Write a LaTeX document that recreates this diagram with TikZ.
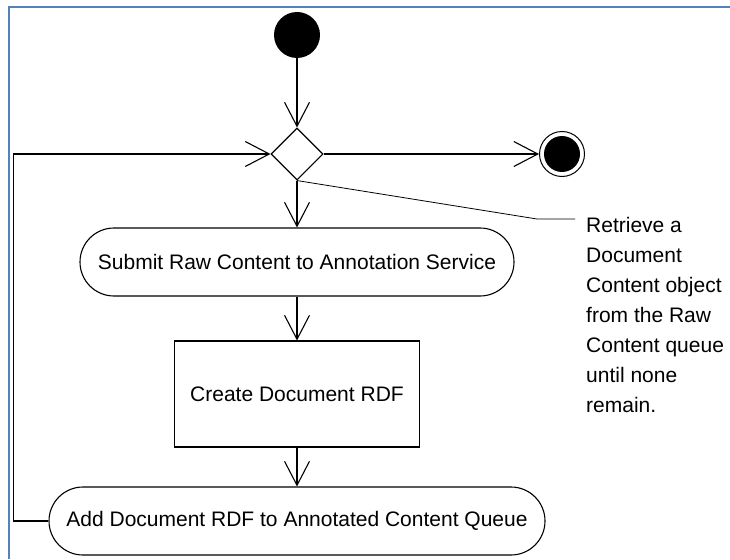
\documentclass[tikz,border=0pt]{standalone}
\usepackage{fontspec}
\setmainfont{Liberation Sans}
\usetikzlibrary{arrows.meta,shapes.geometric}
\definecolor{frameblue}{RGB}{84,130,190}
\begin{document}
\begin{tikzpicture}[x=1pt,y=-1pt,
  txt/.style={font=\fontsize{21}{30}\selectfont},
  flow/.style={line width=1.1pt,-{Straight Barb[length=24pt,width=25pt,line width=1.1pt]}},
  action/.style={draw,line width=1.1pt,rounded corners=34pt,minimum height=68pt,inner sep=0pt,txt},
  activity/.style={draw,line width=1.1pt,inner sep=0pt,txt},
  decision/.style={diamond,draw,line width=1.1pt,minimum width=52pt,minimum height=52pt,inner sep=0pt,aspect=1},
  startdot/.style={circle,fill=black,minimum size=46pt,inner sep=0pt},
  endring/.style={circle,draw,line width=1pt,minimum size=45pt,inner sep=0pt},
  note/.style={txt,align=left,inner sep=0pt},
  noteline/.style={line width=0.8pt}
]
\useasboundingbox (0,0) rectangle (730,559);
\fill[white] (0,0) rectangle (730,559);
% frame
\draw[frameblue,line width=2.2pt] (9,559) -- (9,7) -- (730,7);

% nodes
\node[startdot] (start) at (297,35) {};
\node[decision] (dec) at (297,154) {};
\node[endring] (end) at (562,154) {};
\fill (end.center) circle (18pt);
\node[action,minimum width=434pt] (submit) at (297,262) {Submit Raw Content to Annotation Service};
\node[activity,minimum width=245pt,minimum height=106pt] (create) at (297,394) {Create Document RDF};
\node[action,minimum width=496pt] (add) at (297,521) {Add Document RDF to Annotated Content Queue};

% flows
\draw[flow] (start) -- (dec.north);
\draw[flow] (dec.south) -- (submit.north);
\draw[flow] (submit) -- (create);
\draw[flow] (create) -- (add);
\draw[flow] (dec.east) -- (end);
\draw[flow] (add.west) -- ++(-35,0) |- (dec.west);

% note attached to the decision (base anchor sits on the last line)
\coordinate (bend) at (537,219);
\coordinate (noteend) at (575,219);
\draw[noteline] (dec.south) -- (bend) -- (noteend);
\node[note,anchor=base west] (note) at (586,412) {Retrieve a\\Document\\Content object\\from the Raw\\Content queue\\until none\\remain.};
\end{tikzpicture}
\end{document}
